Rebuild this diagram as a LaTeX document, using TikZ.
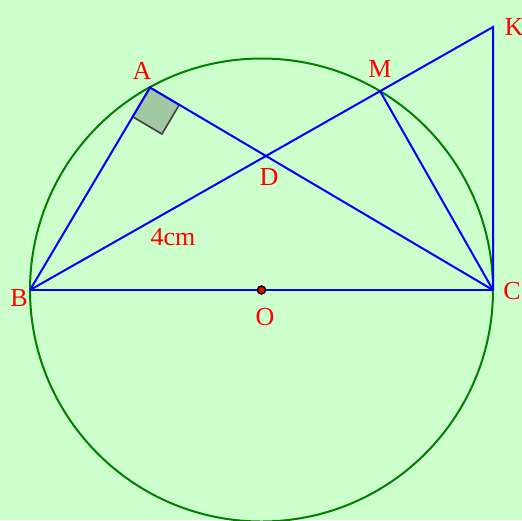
\documentclass[tikz,border=0pt]{standalone}
\usepackage{fontspec}
\setmainfont{Liberation Serif}
\usetikzlibrary{calc}
\begin{document}
\begin{tikzpicture}[x=1pt,y=-1pt,
  lbl/.style={text=red,inner sep=0pt,font=\fontsize{26}{30}\selectfont},
  seg/.style={blue,line width=2pt},
  circ/.style={draw={rgb,255:red,0;green,128;blue,0},line width=2pt}]
\definecolor{bgc}{HTML}{CCFFCC}
\definecolor{sqfill}{HTML}{A2C8A2}
\definecolor{sqdraw}{HTML}{404040}
\fill[bgc] (0,0) rectangle (522,520);
\useasboundingbox (0,0) rectangle (522,520);
\coordinate (O) at (261.5,290);
\coordinate (B) at (30,290);
\coordinate (C) at (493,290);
\coordinate (A) at (150,87.5);
\coordinate (M) at (380,91);
\coordinate (K) at (493,27);
\coordinate (D) at (266,156);
% circle
\draw[circ] (O) circle (231.5);
% right angle square at A
\coordinate (P1) at ($(A)!34pt!(B)$);
\coordinate (P2) at ($(A)!34pt!(C)$);
\coordinate (P3) at ($(P1)+(P2)-(A)$);
\fill[sqfill,draw=sqdraw,line width=1.6pt] (A) -- (P1) -- (P3) -- (P2) -- cycle;
% segments
\draw[seg] (B) -- (A) -- (C);
\draw[seg] (B) -- (K) -- (C);
\draw[seg] (M) -- (C);
\draw[seg] (B) -- (C);
% O point
\fill[red,draw=black,line width=1.5pt] (O) circle (4);
% labels
\node[lbl] (lA) at (142,71) {A};
\node[lbl] (lM) at (380,69) {M};
\node[lbl] (lK) at (514,27) {K};
\node[lbl] (lD) at (269,177) {D};
\node[lbl] (lB) at (19,298) {B};
\node[lbl] (lO) at (265,317) {O};
\node[lbl] (lC) at (512,291) {C};
\node[lbl] (l4) at (173,237) {4cm};
\end{tikzpicture}
\end{document}
